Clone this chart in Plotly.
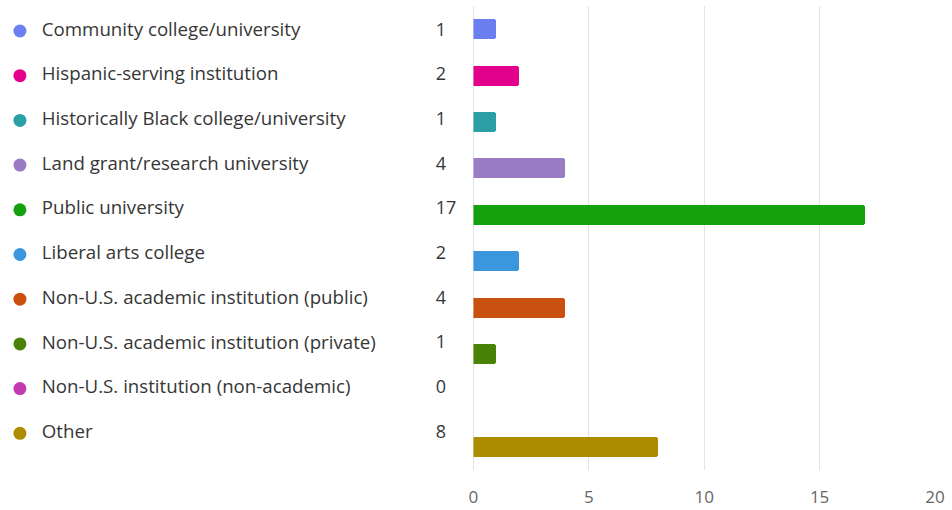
import plotly.graph_objects as go

categories = [
    "Community college/university",
    "Hispanic-serving institution",
    "Historically Black college/university",
    "Land grant/research university",
    "Public university",
    "Liberal arts college",
    "Non-U.S. academic institution (public)",
    "Non-U.S. academic institution (private)",
    "Non-U.S. institution (non-academic)",
    "Other",
]
values = [1, 2, 1, 4, 17, 2, 4, 1, 0, 8]
colors = ["#6b7ff0", "#e3008c", "#2aa0a4", "#9a7bc6", "#13a10e",
          "#3a96dd", "#ca5010", "#498205", "#c239b3", "#ae8c00"]
x_ticks = [0, 5, 10, 15, 20]

W, H = 952, 510
ml, mr, mt, mb = 0, 17, 6, 40
pw = W - ml - mr
ph = H - mt - mb

idx = list(range(len(categories)))
FONT = "Open Sans, Noto Sans, sans-serif"

fig = go.Figure()

# bars
fig.add_trace(go.Bar(
    x=values, y=idx, orientation="h",
    marker=dict(color=colors, cornerradius=3, line=dict(width=0)),
    width=0.43, xaxis="x", yaxis="y", hoverinfo="skip", showlegend=False,
))

# left list: dots
fig.add_trace(go.Scatter(
    x=[15] * len(idx), y=idx, mode="markers",
    marker=dict(color=colors, size=13),
    xaxis="x2", yaxis="y2", hoverinfo="skip", showlegend=False,
))
# left list: labels
fig.add_trace(go.Scatter(
    x=[37] * len(idx), y=idx, mode="text", text=categories,
    textposition="middle right",
    textfont=dict(family=FONT, size=18.7, color="#363636"),
    xaxis="x2", yaxis="y2", hoverinfo="skip", showlegend=False,
))
# left list: counts
fig.add_trace(go.Scatter(
    x=[433] * len(idx), y=idx, mode="text", text=[str(v) for v in values],
    textposition="middle right",
    textfont=dict(family=FONT, size=18, color="#363636"),
    xaxis="x2", yaxis="y2", hoverinfo="skip", showlegend=False,
))

n = len(idx)
# list row spacing 44.7px from first row at ~31px
top_i = -(31 - mt) / 44.7
bot_i = top_i + ph / 44.7

fig.update_layout(
    width=W, height=H,
    margin=dict(l=ml, r=mr, t=mt, b=mb),
    paper_bgcolor="white", plot_bgcolor="white",
    xaxis=dict(domain=[471 / pw, 1], range=[0, 20], tickvals=x_ticks,
               showgrid=True, gridcolor="#e3e3e3", gridwidth=1,
               zeroline=True, zerolinecolor="#e3e3e3", zerolinewidth=1,
               showline=False, ticks="", ticklen=0, ticklabelstandoff=15,
               tickfont=dict(family=FONT, size=17, color="#666666"),
               fixedrange=True),
    yaxis=dict(range=[n - 0.5, -0.5], showticklabels=False, showgrid=False,
               zeroline=False, showline=False, fixedrange=True),
    xaxis2=dict(domain=[0, 470 / pw], range=[0, 470], visible=False,
                anchor="y2", fixedrange=True),
    yaxis2=dict(domain=[0, 1], range=[bot_i, top_i], visible=False,
                anchor="x2", fixedrange=True),
    bargap=0,
)

fig.write_html("out.html")
